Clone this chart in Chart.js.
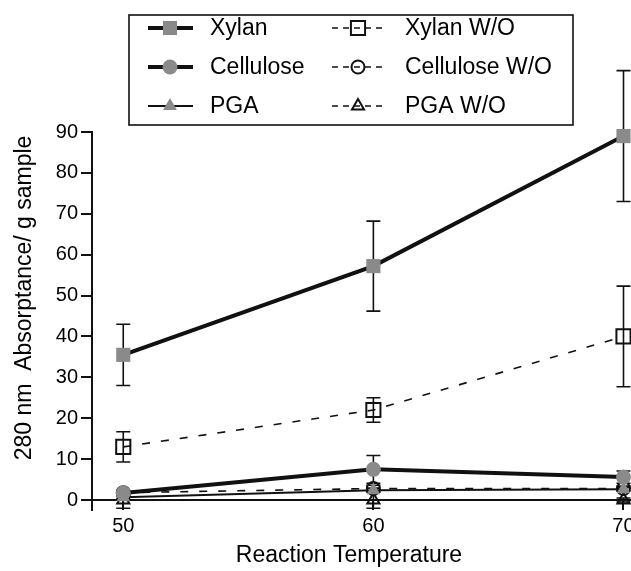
<!DOCTYPE html>
<html>
<head>
<meta charset="utf-8">
<script src="https://cdn.jsdelivr.net/npm/chart.js@4.4.1/dist/chart.umd.min.js"></script>
<style>
  html, body { margin: 0; padding: 0; background: #ffffff; }
  canvas { display: block; }
</style>
</head>
<body>
<canvas id="chart" width="631" height="571"></canvas>
<script>
// Reaction temperatures (x) and 280 nm absorptance per gram of sample (y)
const temperatures = [50, 60, 70];

const xylan       = [35.5, 57.2, 89.0];
const xylanErr    = [7.5, 11.0, 16.0];
const xylanWO     = [13.0, 22.0, 40.0];
const xylanWOErr  = [3.7, 3.0, 12.3];

const cellulose      = [1.7, 7.5, 5.6];
const celluloseErr   = [0.5, 3.4, 1.5];
const celluloseWO    = [1.8, 2.8, 2.8];
const celluloseWOErr = [0.4, 0.8, 0.6];

const pga      = [0.7, 2.4, 2.6];
const pgaErr   = [0.3, 0.5, 0.4];
const pgaWO    = [0.0, 0.0, 0.0];
const pgaWOErr = [2.0, 2.0, 0.5];

const xTickValues = [50, 60, 70];
const yTickValues = [0, 10, 20, 30, 40, 50, 60, 70, 80, 90];

const FONT = '"Liberation Sans", Arial, Helvetica, sans-serif';
const INK = '#111111';
const GREY = '#8a8a8a';

function points(values) {
  return temperatures.map((t, i) => ({ x: t, y: values[i] }));
}

function series(label, values, err, style) {
  return Object.assign({
    label: label,
    data: points(values),
    err: err,
    showLine: true,
    tension: 0,
    clip: false,
    pointHoverRadius: 0
  }, style);
}

const datasets = [
  series('Xylan', xylan, xylanErr, {
    borderColor: INK, borderWidth: 4,
    pointStyle: 'rect', pointRadius: 10,
    pointBackgroundColor: GREY, pointBorderColor: GREY, pointBorderWidth: 0,
    legendCol: 0, legendRow: 0
  }),
  series('Cellulose', cellulose, celluloseErr, {
    borderColor: INK, borderWidth: 4,
    pointStyle: 'circle', pointRadius: 7.5,
    pointBackgroundColor: GREY, pointBorderColor: GREY, pointBorderWidth: 0,
    legendCol: 0, legendRow: 1
  }),
  series('PGA', pga, pgaErr, {
    borderColor: INK, borderWidth: 2,
    pointStyle: 'triangle', pointRadius: 8,
    pointBackgroundColor: GREY, pointBorderColor: GREY, pointBorderWidth: 0,
    legendCol: 0, legendRow: 2
  }),
  series('Xylan W/O', xylanWO, xylanWOErr, {
    borderColor: INK, borderWidth: 1.6, borderDash: [8, 11],
    pointStyle: 'rect', pointRadius: 10,
    pointBackgroundColor: 'rgba(0,0,0,0)', pointBorderColor: INK, pointBorderWidth: 2,
    legendCol: 1, legendRow: 0
  }),
  series('Cellulose W/O', celluloseWO, celluloseWOErr, {
    borderColor: INK, borderWidth: 1.6, borderDash: [8, 11],
    pointStyle: 'circle', pointRadius: 6.5,
    pointBackgroundColor: 'rgba(0,0,0,0)', pointBorderColor: INK, pointBorderWidth: 2,
    legendCol: 1, legendRow: 1
  }),
  series('PGA W/O', pgaWO, pgaWOErr, {
    borderColor: INK, borderWidth: 1.6, borderDash: [8, 11],
    pointStyle: 'triangle', pointRadius: 7,
    pointBackgroundColor: 'rgba(0,0,0,0)', pointBorderColor: INK, pointBorderWidth: 2,
    legendCol: 1, legendRow: 2
  })
];

// Vertical error bars with caps, drawn beneath the markers
const errorBars = {
  id: 'errorBars',
  beforeDatasetsDraw(chart) {
    const { ctx, scales: { x, y } } = chart;
    ctx.save();
    ctx.strokeStyle = INK;
    ctx.lineWidth = 1.6;
    chart.data.datasets.forEach(ds => {
      ds.data.forEach((p, i) => {
        const e = ds.err[i];
        if (!e) return;
        const px = x.getPixelForValue(p.x);
        const top = y.getPixelForValue(p.y + e);
        const bot = y.getPixelForValue(p.y - e);
        ctx.beginPath();
        ctx.moveTo(px, top); ctx.lineTo(px, bot);
        ctx.moveTo(px - 7, top); ctx.lineTo(px + 7, top);
        ctx.moveTo(px - 7, bot); ctx.lineTo(px + 7, bot);
        ctx.stroke();
      });
    });
    ctx.restore();
  }
};

function drawMarker(ctx, style, cx, cy, r, fill, stroke, lw) {
  ctx.beginPath();
  if (style === 'rect') {
    const s = Math.SQRT1_2 * r;
    ctx.rect(cx - s, cy - s, 2 * s, 2 * s);
  } else if (style === 'circle') {
    ctx.arc(cx, cy, r, 0, Math.PI * 2);
  } else if (style === 'triangle') {
    for (let k = 0; k < 3; k++) {
      const a = k * 2 * Math.PI / 3;
      const px = cx + Math.sin(a) * r;
      const py = cy - Math.cos(a) * r;
      if (k === 0) ctx.moveTo(px, py); else ctx.lineTo(px, py);
    }
    ctx.closePath();
  }
  ctx.fillStyle = fill;
  ctx.fill();
  if (lw > 0) {
    ctx.setLineDash([]);
    ctx.lineWidth = lw;
    ctx.strokeStyle = stroke;
    ctx.stroke();
  }
}

// Boxed two-column legend, axis extension and axis titles
const decorations = {
  id: 'decorations',
  afterDraw(chart) {
    const { ctx, chartArea } = chart;
    ctx.save();

    // y axis continues a little below the zero line
    ctx.strokeStyle = INK;
    ctx.lineWidth = 2;
    ctx.beginPath();
    ctx.moveTo(chartArea.left, chartArea.bottom);
    ctx.lineTo(chartArea.left, chartArea.bottom + 11);
    ctx.stroke();

    // legend frame
    const box = { x: 129, y: 15, w: 444, h: 110 };
    ctx.lineWidth = 1.6;
    ctx.strokeRect(box.x, box.y, box.w, box.h);

    const cols = [
      { x0: 148, x1: 193, mx: 170, tx: 210 },
      { x0: 332, x1: 386, mx: 358, tx: 405 }
    ];
    const rowY = [28, 67, 106];

    ctx.font = '23px ' + FONT;
    ctx.textBaseline = 'middle';
    ctx.textAlign = 'left';
    chart.data.datasets.forEach(ds => {
      const c = cols[ds.legendCol];
      const yy = rowY[ds.legendRow];
      ctx.strokeStyle = ds.borderColor;
      ctx.lineWidth = ds.borderWidth;
      ctx.setLineDash(ds.borderDash ? [6, 5] : []);
      ctx.beginPath();
      ctx.moveTo(c.x0, yy); ctx.lineTo(c.x1, yy);
      ctx.stroke();
      ctx.setLineDash([]);
      drawMarker(ctx, ds.pointStyle, c.mx, yy, ds.pointRadius,
        ds.pointBackgroundColor, ds.pointBorderColor, ds.pointBorderWidth);
      ctx.fillStyle = '#000';
      ctx.fillText(ds.label, c.tx, yy + 1);
    });

    // axis titles
    ctx.fillStyle = '#000';
    ctx.font = '23px ' + FONT;
    ctx.textAlign = 'center';
    ctx.textBaseline = 'middle';
    ctx.fillText('Reaction Temperature', 349, 556);

    ctx.translate(25, 298);
    ctx.rotate(-Math.PI / 2);
    ctx.fillText('280 nm  Absorptance/ g sample', 0, 0);

    ctx.restore();
  }
};

new Chart(document.getElementById('chart'), {
  type: 'scatter',
  data: { datasets: datasets },
  options: {
    responsive: false,
    animation: false,
    devicePixelRatio: 1,
    layout: { autoPadding: false, padding: { top: 132, right: 0, left: 0, bottom: 0 } },
    plugins: { legend: { display: false }, tooltip: { enabled: false } },
    scales: {
      x: {
        type: 'linear',
        min: 48.75,
        max: 70.3,
        afterBuildTicks(scale) { scale.ticks = xTickValues.map(v => ({ value: v })); },
        afterFit(scale) {
          scale.height = 71;
          scale.paddingLeft = 0;
          scale.paddingRight = 0;
        },
        border: { display: true, color: INK, width: 2 },
        grid: { display: true, drawOnChartArea: false, drawTicks: true, tickLength: 10, color: INK, lineWidth: 2 },
        ticks: { color: '#000', font: { family: FONT, size: 20 }, padding: 4, maxRotation: 0 }
      },
      y: {
        type: 'linear',
        min: 0,
        max: 90,
        afterBuildTicks(scale) { scale.ticks = yTickValues.map(v => ({ value: v })); },
        afterFit(scale) {
          scale.width = 92;
          scale.paddingTop = 0;
          scale.paddingBottom = 0;
        },
        border: { display: true, color: INK, width: 2 },
        grid: { display: true, drawOnChartArea: false, drawTicks: true, tickLength: 11, color: INK, lineWidth: 2 },
        ticks: { color: '#000', font: { family: FONT, size: 20 }, padding: 3 }
      }
    }
  },
  plugins: [errorBars, decorations]
});
</script>
</body>
</html>
